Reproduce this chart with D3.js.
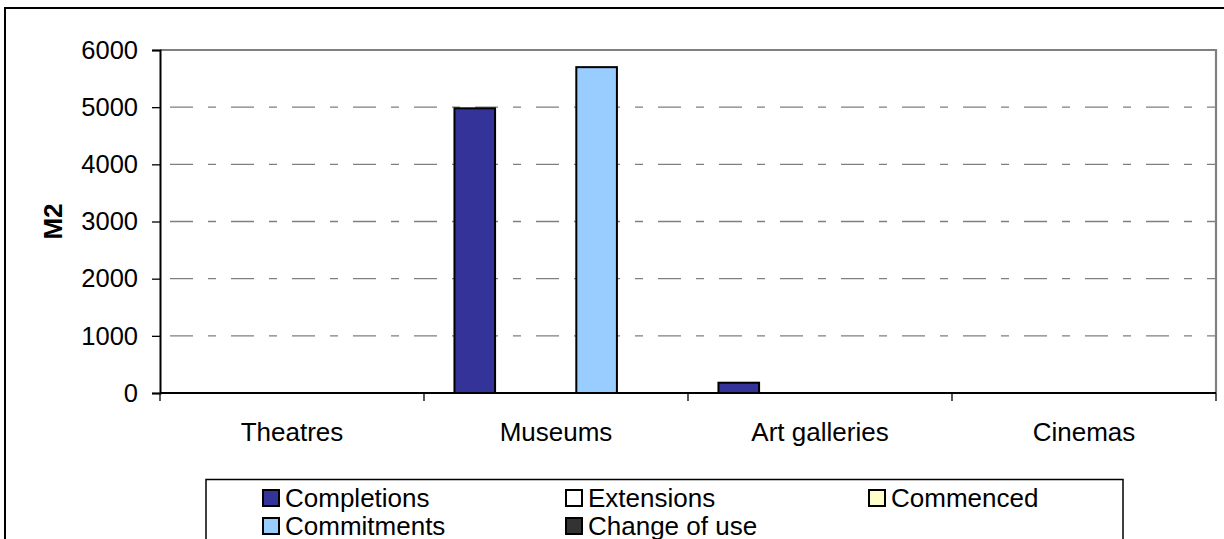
<!DOCTYPE html>
<html>
<head>
<meta charset="utf-8">
<script src="https://cdn.jsdelivr.net/npm/d3@7"></script>
<style>
  html, body { margin: 0; padding: 0; background: #fff; }
  svg { display: block; font-family: "Liberation Sans", Arial, sans-serif; }
</style>
</head>
<body>
<svg id="chart" width="1224" height="539"></svg>
<script>
// ---- Data ----
const categories = ["Theatres", "Museums", "Art galleries", "Cinemas"];
const seriesNames = ["Completions", "Extensions", "Commenced", "Commitments", "Change of use"];
const seriesColors = ["#333399", "#FFFFFF", "#FFFFCC", "#99CCFF", "#333333"];
const completions = [0, 4980, 180, 0];
const extensions = [0, 0, 0, 0];
const commenced = [0, 0, 0, 0];
const commitments = [0, 5700, 0, 0];
const changeOfUse = [0, 0, 0, 0];
const yTicks = [0, 1000, 2000, 3000, 4000, 5000, 6000];
const yLabel = "M2";

const seriesValues = [completions, extensions, commenced, commitments, changeOfUse];

// ---- Layout ----
const svg = d3.select("#chart");
const plot = { left: 160, right: 1216, top: 50, bottom: 393 };

// outer chart border
svg.append("rect")
  .attr("x", 5).attr("y", 8).attr("width", 1400).attr("height", 700)
  .attr("fill", "#fff").attr("stroke", "#000").attr("stroke-width", 2);

const x = d3.scaleBand().domain(categories).range([plot.left, plot.right]).paddingInner(0).paddingOuter(0);
const xs = d3.scaleBand().domain(seriesNames).range([0, x.bandwidth()]).paddingInner(0).paddingOuter(0.75);
const y = d3.scaleLinear().domain([0, 6000]).range([plot.bottom, plot.top]);

// gridlines
svg.append("g").selectAll("line")
  .data(yTicks.filter(t => t > 0 && t < 6000))
  .join("line")
  .attr("x1", plot.left).attr("x2", plot.right)
  .attr("y1", d => y(d)).attr("y2", d => y(d))
  .attr("stroke", "#7f7f7f").attr("stroke-width", 1.3)
  .attr("stroke-dasharray", "23,15,8,15")
  .attr("stroke-dashoffset", -10);

// plot border top/right (gray)
svg.append("path")
  .attr("d", `M${plot.left},${plot.top}H${plot.right}V${plot.bottom}`)
  .attr("fill", "none").attr("stroke", "#808080").attr("stroke-width", 2.2);

// bars
const barData = [];
categories.forEach((c, ci) => {
  seriesNames.forEach((s, si) => {
    barData.push({ cat: c, series: s, value: seriesValues[si][ci], color: seriesColors[si] });
  });
});
svg.append("g").selectAll("rect")
  .data(barData.filter(d => d.value > 0))
  .join("rect")
  .attr("x", d => x(d.cat) + xs(d.series))
  .attr("y", d => y(d.value))
  .attr("width", xs.bandwidth())
  .attr("height", d => y(0) - y(d.value))
  .attr("fill", d => d.color)
  .attr("stroke", "#000").attr("stroke-width", 2);

// y axis
const yAxis = svg.append("g")
  .attr("transform", `translate(${plot.left},0)`)
  .call(d3.axisLeft(y).tickValues(yTicks).tickSize(8).tickPadding(14).tickFormat(d3.format("d")));
yAxis.select(".domain").attr("stroke", "#000").attr("stroke-width", 2);
yAxis.selectAll(".tick line").attr("stroke", "#000").attr("stroke-width", 1.3);
yAxis.selectAll(".tick text").attr("font-size", 25.5).attr("fill", "#000")
  .attr("font-family", "'Liberation Sans', Arial, sans-serif");

// x axis (category separators)
const xAxisG = svg.append("g").attr("transform", `translate(0,${plot.bottom})`);
xAxisG.append("line").attr("x1", plot.left).attr("x2", plot.right).attr("y1", 0).attr("y2", 0)
  .attr("stroke", "#000").attr("stroke-width", 2);
const seps = categories.map(c => x(c)).concat([x(categories[categories.length - 1]) + x.bandwidth()]);
xAxisG.selectAll("line.sep").data(seps).join("line").attr("class", "sep")
  .attr("x1", d => d).attr("x2", d => d).attr("y1", 0).attr("y2", 8)
  .attr("stroke", "#000").attr("stroke-width", 1.3);
xAxisG.selectAll("text").data(categories).join("text")
  .attr("x", d => x(d) + x.bandwidth() / 2)
  .attr("y", 48)
  .attr("text-anchor", "middle")
  .attr("font-size", 26)
  .attr("fill", "#000")
  .text(d => d);

// y label
svg.append("text")
  .attr("transform", `translate(62,${(plot.top + plot.bottom) / 2}) rotate(-90)`)
  .attr("text-anchor", "middle")
  .attr("font-size", 26).attr("font-weight", "bold")
  .text(yLabel);

// legend
const legend = svg.append("g");
legend.append("rect")
  .attr("x", 206).attr("y", 479.5).attr("width", 917).attr("height", 120)
  .attr("fill", "#fff").attr("stroke", "#000").attr("stroke-width", 1.5);
const colX = [263, 566, 869];
const rowY = [490, 518];
const items = legend.selectAll("g.item").data(seriesNames).join("g").attr("class", "item")
  .attr("transform", (d, i) => `translate(${colX[i % 3]},${rowY[Math.floor(i / 3)]})`);
items.append("rect")
  .attr("x", 0).attr("y", 0).attr("width", 16).attr("height", 16)
  .attr("fill", (d, i) => seriesColors[i]).attr("stroke", "#000").attr("stroke-width", 2);
items.append("text")
  .attr("x", 22).attr("y", 16.5)
  .attr("font-size", 26).attr("fill", "#000")
  .text(d => d);
</script>
</body>
</html>
